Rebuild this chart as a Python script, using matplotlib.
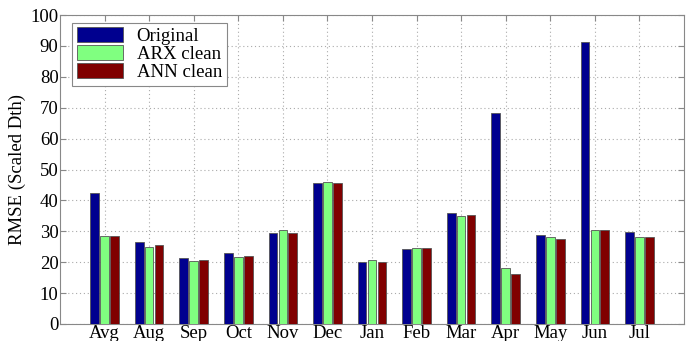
import matplotlib
matplotlib.use("Agg")
import matplotlib.pyplot as plt
import numpy as np

plt.rcParams['font.family'] = ['Liberation Serif', 'DejaVu Serif']

# RMSE per month for each model
months = ['Avg', 'Aug', 'Sep', 'Oct', 'Nov', 'Dec', 'Jan', 'Feb', 'Mar', 'Apr', 'May', 'Jun', 'Jul']
original = [42.3, 26.4, 21.2, 22.9, 29.6, 45.5, 20.2, 24.2, 35.8, 68.4, 28.9, 91.4, 29.8]
arx_clean = [28.4, 25.0, 20.4, 21.7, 30.3, 45.9, 20.6, 24.7, 35.0, 18.0, 28.2, 30.5, 28.2]
ann_clean = [28.5, 25.6, 20.6, 22.0, 29.6, 45.5, 20.0, 24.5, 35.2, 16.2, 27.6, 30.4, 28.2]

fig = plt.figure(figsize=(6.94, 3.41), dpi=100)
ax = fig.add_axes([60/694, 1 - 324/341, 624/694, 309/341])

x = np.arange(1, len(months) + 1)
w = 0.195
step = 0.222
edge = dict(edgecolor='#555555', linewidth=0.6)
ax.bar(x - step, original, w, color='#00008F', label='Original', **edge, zorder=3)
ax.bar(x, arx_clean, w, color='#80FF80', label='ARX clean', **edge, zorder=3)
ax.bar(x + step, ann_clean, w, color='#800000', label='ANN clean', **edge, zorder=3)

ax.set_xlim(0, 14)
ax.set_ylim(0, 100)
ax.set_xticks(x)
ax.set_xticklabels(months)
ax.set_yticks(range(0, 101, 10))
ax.tick_params(direction='in', top=True, right=True, length=4, labelsize=13.5,
               color='#888888', pad=1)
for s in ax.spines.values():
    s.set_color('#888888')
    s.set_linewidth(0.8)
ax.grid(True, linestyle=(0, (1, 2.5)), color='#aaaaaa', linewidth=0.8, zorder=0)
ax.set_ylabel('RMSE (Scaled Dth)', fontsize=13.5, labelpad=3)

leg = ax.legend(loc='upper left', bbox_to_anchor=(0.019, 0.975), fontsize=13.5,
                fancybox=False, framealpha=1, edgecolor='#888888',
                handlelength=2.5, handleheight=0.85, borderpad=0.25,
                labelspacing=0.0, handletextpad=0.7, borderaxespad=0)
leg.get_frame().set_linewidth(0.8)

fig.savefig('out.png', dpi=100)
